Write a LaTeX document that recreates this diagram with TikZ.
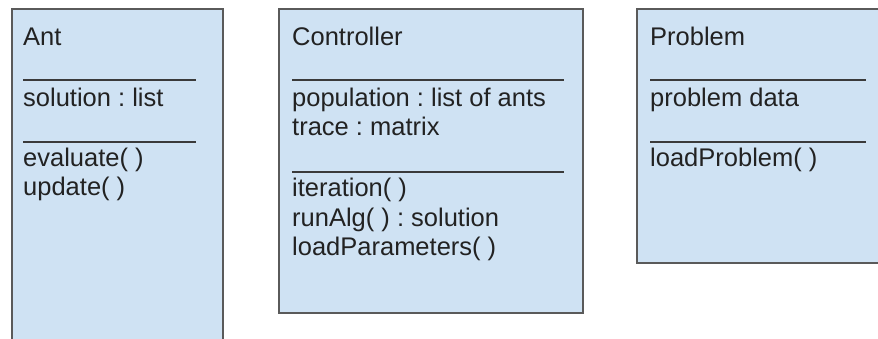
\documentclass[tikz,border=0pt]{standalone}
\usepackage{fontspec}
\setmainfont{Liberation Sans}
\definecolor{boxfill}{HTML}{CFE2F3}
\definecolor{boxline}{HTML}{5A5A5A}
\definecolor{ruleline}{HTML}{3A3A3A}
\definecolor{txtcol}{HTML}{222222}
\begin{document}
\frenchspacing
\begin{tikzpicture}[x=1pt,y=-1pt,
  classbox/.style={draw=boxline, fill=boxfill, line width=1.6pt, rectangle, anchor=north west, inner sep=0pt},
  sep/.style={draw=ruleline, line width=2pt},
  txt/.style={anchor=base west, inner sep=0pt, text=txtcol, font=\fontsize{25.5}{29}\selectfont\frenchspacing}]
\useasboundingbox (0,0) rectangle (878,339);
\clip (0,0) rectangle (878,339);
% boxes
\node[classbox, minimum width=211pt, minimum height=345pt] (ant) at (11,8) {};
\node[classbox, minimum width=304pt, minimum height=304pt] (ctrl) at (278,8) {};
\node[classbox, minimum width=260pt, minimum height=254pt] (prob) at (636,8) {};
% Ant
\node[txt] (antname) at (23,46) {Ant};
\coordinate (a1l) at (23,80); \coordinate (a1r) at (196,80);
\draw[sep] (a1l) -- (a1r);
\node[txt] (antsol) at (23,107) {solution : list};
\coordinate (a2l) at (23,142); \coordinate (a2r) at (196,142);
\draw[sep] (a2l) -- (a2r);
\node[txt] (anteval) at (23,167) {evaluate( )};
\node[txt] (antupd) at (23,196) {update( )};
% Controller
\node[txt] (ctrlname) at (292,46) {Controller};
\coordinate (c1l) at (292,80); \coordinate (c1r) at (564,80);
\draw[sep] (c1l) -- (c1r);
\node[txt] (ctrlpop) at (292,107) {population : list of ants};
\node[txt] (ctrltrace) at (292,136) {trace : matrix};
\coordinate (c2l) at (292,172); \coordinate (c2r) at (564,172);
\draw[sep] (c2l) -- (c2r);
\node[txt] (ctrlit) at (292,197) {iteration( )};
\node[txt] (ctrlrun) at (292,226) {runAlg( ) : solution};
\node[txt] (ctrlload) at (292,255) {loadParameters( )};
% Problem
\node[txt] (probname) at (650,46) {Problem};
\coordinate (p1l) at (650,80); \coordinate (p1r) at (866,80);
\draw[sep] (p1l) -- (p1r);
\node[txt] (probdata) at (650,107) {problem data};
\coordinate (p2l) at (650,142); \coordinate (p2r) at (866,142);
\draw[sep] (p2l) -- (p2r);
\node[txt] (probload) at (650,167) {loadProblem( )};
\end{tikzpicture}
\end{document}
